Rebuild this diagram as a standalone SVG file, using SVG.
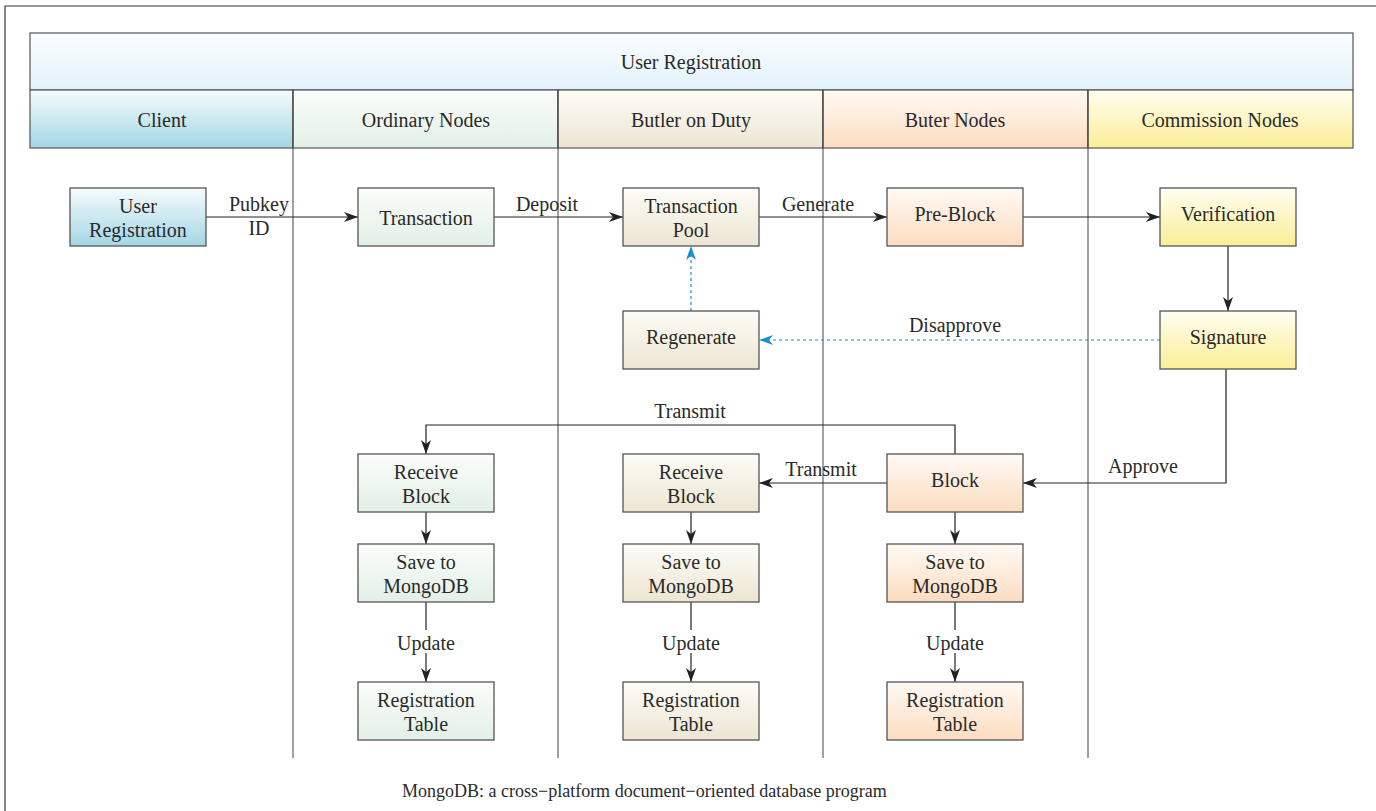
<svg xmlns="http://www.w3.org/2000/svg" width="1376" height="811" viewBox="0 0 1376 811">
  <style>
    text { font-family: "Liberation Serif", "DejaVu Serif", serif; font-size: 20px; fill: #2a2a2a; text-anchor: middle; }
    .hdr { stroke: #555; stroke-width: 1.2; }
    .box { stroke: #555; stroke-width: 1.3; }
    .lane { stroke: #444; stroke-width: 1; fill: none; }
    .edge { stroke: #222; stroke-width: 1.2; fill: none; }
    .dash { stroke: #1a8fd0; stroke-width: 1.2; fill: none; stroke-dasharray: 3 3; }
  </style>
  <defs>
    <linearGradient id="gTitle" x1="0" y1="0" x2="0" y2="1">
      <stop offset="0" stop-color="#fbfdff"/><stop offset="1" stop-color="#e2f2fb"/>
    </linearGradient>
    <linearGradient id="gClient" x1="0" y1="0" x2="0" y2="1">
      <stop offset="0" stop-color="#f6fbfc"/><stop offset="1" stop-color="#a3d6e5"/>
    </linearGradient>
    <linearGradient id="gOrd" x1="0" y1="0" x2="0" y2="1">
      <stop offset="0" stop-color="#fbfdfb"/><stop offset="1" stop-color="#e2f0e6"/>
    </linearGradient>
    <linearGradient id="gBut" x1="0" y1="0" x2="0" y2="1">
      <stop offset="0" stop-color="#fdfcf7"/><stop offset="1" stop-color="#ece5d2"/>
    </linearGradient>
    <linearGradient id="gButer" x1="0" y1="0" x2="0" y2="1">
      <stop offset="0" stop-color="#fffaf5"/><stop offset="1" stop-color="#fcdcc0"/>
    </linearGradient>
    <linearGradient id="gCom" x1="0" y1="0" x2="0" y2="1">
      <stop offset="0" stop-color="#fffef2"/><stop offset="1" stop-color="#fbee96"/>
    </linearGradient>
    <marker id="arr" viewBox="0 0 14 10" refX="14" refY="5" markerWidth="14" markerHeight="10" markerUnits="userSpaceOnUse" orient="auto">
      <path d="M0,0 L14,5 L0,10 L4,5 z" fill="#222"/>
    </marker>
    <marker id="arrB" viewBox="0 0 14 10" refX="14" refY="5" markerWidth="14" markerHeight="10" markerUnits="userSpaceOnUse" orient="auto">
      <path d="M0,0 L14,5 L0,10 L4,5 z" fill="#1a8fd0"/>
    </marker>
  </defs>

  <rect width="1376" height="811" fill="#fff"/>
  <!-- outer frame -->
  <path d="M5,811 V6 H1376" stroke="#333" stroke-width="1.2" fill="none"/>

  <!-- swimlane header -->
  <g id="header">
    <rect class="hdr" x="30" y="33" width="1323" height="57" fill="url(#gTitle)"/>
    <text x="691" y="69">User Registration</text>
    <rect class="hdr" x="30" y="90" width="263" height="58" fill="url(#gClient)"/>
    <text x="162" y="127">Client</text>
    <rect class="hdr" x="293" y="90" width="265" height="58" fill="url(#gOrd)"/>
    <text x="426" y="127">Ordinary Nodes</text>
    <rect class="hdr" x="558" y="90" width="265" height="58" fill="url(#gBut)"/>
    <text x="691" y="127">Butler on Duty</text>
    <rect class="hdr" x="823" y="90" width="265" height="58" fill="url(#gButer)"/>
    <text x="955" y="127">Buter Nodes</text>
    <rect class="hdr" x="1088" y="90" width="265" height="58" fill="url(#gCom)"/>
    <text x="1220" y="127">Commission Nodes</text>
  </g>

  <!-- lane dividers -->
  <g id="lanes">
    <line class="lane" x1="293" y1="90" x2="293" y2="758"/>
    <line class="lane" x1="558" y1="90" x2="558" y2="758"/>
    <line class="lane" x1="823" y1="90" x2="823" y2="758"/>
    <line class="lane" x1="1088" y1="90" x2="1088" y2="758"/>
  </g>

  <!-- connectors -->
  <g id="connectors">
    <line class="edge" x1="206" y1="217" x2="358" y2="217" marker-end="url(#arr)"/>
    <text x="259" y="211">Pubkey</text>
    <text x="259" y="235">ID</text>
    <line class="edge" x1="494" y1="217" x2="623" y2="217" marker-end="url(#arr)"/>
    <text x="547" y="211">Deposit</text>
    <line class="edge" x1="759" y1="217" x2="887" y2="217" marker-end="url(#arr)"/>
    <text x="818" y="211">Generate</text>
    <line class="edge" x1="1023" y1="217" x2="1160" y2="217" marker-end="url(#arr)"/>
    <line class="edge" x1="1228" y1="246" x2="1228" y2="311" marker-end="url(#arr)"/>
    <line class="dash" x1="1160" y1="340" x2="759" y2="340" marker-end="url(#arrB)"/>
    <text x="955" y="332">Disapprove</text>
    <line class="dash" x1="691" y1="311" x2="691" y2="246" marker-end="url(#arrB)"/>
    <polyline class="edge" points="1226,369 1226,483 1023,483" marker-end="url(#arr)"/>
    <text x="1143" y="473">Approve</text>
    <line class="edge" x1="887" y1="483" x2="759" y2="483" marker-end="url(#arr)"/>
    <text x="821" y="476">Transmit</text>
    <polyline class="edge" points="955,454 955,425 426,425 426,454" marker-end="url(#arr)"/>
    <text x="690" y="418">Transmit</text>
    <line class="edge" x1="426" y1="512" x2="426" y2="544" marker-end="url(#arr)"/>
    <line class="edge" x1="691" y1="512" x2="691" y2="544" marker-end="url(#arr)"/>
    <line class="edge" x1="955" y1="512" x2="955" y2="544" marker-end="url(#arr)"/>
    <line class="edge" x1="426" y1="602" x2="426" y2="630"/>
    <line class="edge" x1="426" y1="653" x2="426" y2="682" marker-end="url(#arr)"/>
    <text x="426" y="650">Update</text>
    <line class="edge" x1="691" y1="602" x2="691" y2="630"/>
    <line class="edge" x1="691" y1="653" x2="691" y2="682" marker-end="url(#arr)"/>
    <text x="691" y="650">Update</text>
    <line class="edge" x1="955" y1="602" x2="955" y2="630"/>
    <line class="edge" x1="955" y1="653" x2="955" y2="682" marker-end="url(#arr)"/>
    <text x="955" y="650">Update</text>
  </g>

  <!-- nodes -->
  <g id="user-registration">
    <rect class="box" x="70" y="188" width="136" height="58" fill="url(#gClient)"/>
    <text x="138" y="213">User</text><text x="138" y="237">Registration</text>
  </g>
  <g id="transaction">
    <rect class="box" x="358" y="188" width="136" height="58" fill="url(#gOrd)"/>
    <text x="426" y="225">Transaction</text>
  </g>
  <g id="transaction-pool">
    <rect class="box" x="623" y="188" width="136" height="58" fill="url(#gBut)"/>
    <text x="691" y="213">Transaction</text><text x="691" y="237">Pool</text>
  </g>
  <g id="pre-block">
    <rect class="box" x="887" y="188" width="136" height="58" fill="url(#gButer)"/>
    <text x="955" y="221">Pre-Block</text>
  </g>
  <g id="verification">
    <rect class="box" x="1160" y="188" width="136" height="58" fill="url(#gCom)"/>
    <text x="1228" y="221">Verification</text>
  </g>
  <g id="regenerate">
    <rect class="box" x="623" y="311" width="136" height="58" fill="url(#gBut)"/>
    <text x="691" y="344">Regenerate</text>
  </g>
  <g id="signature">
    <rect class="box" x="1160" y="311" width="136" height="58" fill="url(#gCom)"/>
    <text x="1228" y="344">Signature</text>
  </g>
  <g id="receive-block-ordinary">
    <rect class="box" x="358" y="454" width="136" height="58" fill="url(#gOrd)"/>
    <text x="426" y="479">Receive</text><text x="426" y="503">Block</text>
  </g>
  <g id="receive-block-butler">
    <rect class="box" x="623" y="454" width="136" height="58" fill="url(#gBut)"/>
    <text x="691" y="479">Receive</text><text x="691" y="503">Block</text>
  </g>
  <g id="block">
    <rect class="box" x="887" y="454" width="136" height="58" fill="url(#gButer)"/>
    <text x="955" y="487">Block</text>
  </g>
  <g id="save-ordinary">
    <rect class="box" x="358" y="544" width="136" height="58" fill="url(#gOrd)"/>
    <text x="426" y="569">Save to</text><text x="426" y="593">MongoDB</text>
  </g>
  <g id="save-butler">
    <rect class="box" x="623" y="544" width="136" height="58" fill="url(#gBut)"/>
    <text x="691" y="569">Save to</text><text x="691" y="593">MongoDB</text>
  </g>
  <g id="save-buter">
    <rect class="box" x="887" y="544" width="136" height="58" fill="url(#gButer)"/>
    <text x="955" y="569">Save to</text><text x="955" y="593">MongoDB</text>
  </g>
  <g id="table-ordinary">
    <rect class="box" x="358" y="682" width="136" height="58" fill="url(#gOrd)"/>
    <text x="426" y="707">Registration</text><text x="426" y="731">Table</text>
  </g>
  <g id="table-butler">
    <rect class="box" x="623" y="682" width="136" height="58" fill="url(#gBut)"/>
    <text x="691" y="707">Registration</text><text x="691" y="731">Table</text>
  </g>
  <g id="table-buter">
    <rect class="box" x="887" y="682" width="136" height="58" fill="url(#gButer)"/>
    <text x="955" y="707">Registration</text><text x="955" y="731">Table</text>
  </g>

  <text x="402" y="797" style="text-anchor:start; font-size:18px">MongoDB: a cross−platform document−oriented database program</text>
</svg>
